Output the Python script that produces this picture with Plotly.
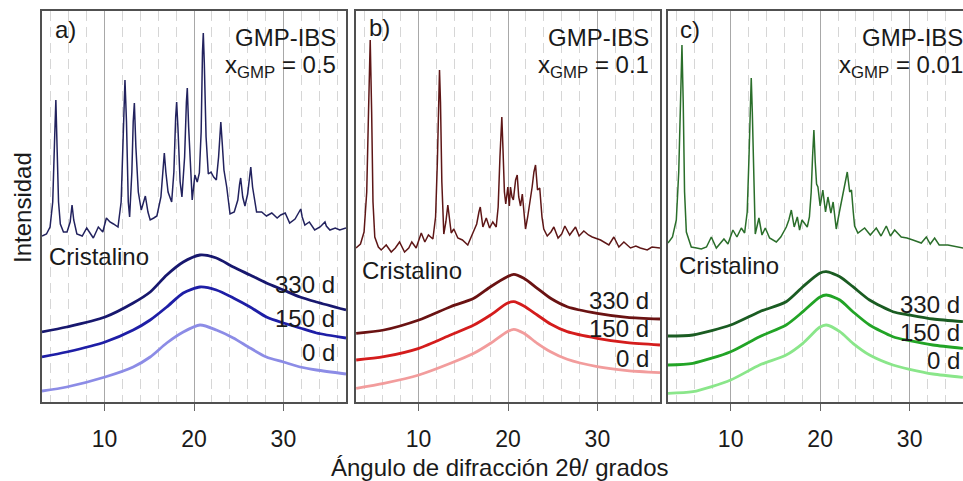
import plotly.graph_objects as go

# ---------------- data (2theta in degrees, intensity in arbitrary units) ----------------
# Panel a) x_GMP = 0.5
a_cryst_x = [3.0, 3.5, 3.9, 4.2, 4.4, 4.55, 4.7, 4.85, 5.05, 5.4, 5.8, 6.15, 6.36, 6.55, 6.9, 7.5, 8.0,
             8.4, 8.74, 9.3, 9.8, 10.2, 10.6, 11.0, 11.5, 11.85, 12.1, 12.28, 12.45, 12.65, 12.8, 13.05,
             13.2, 13.33, 13.5, 13.77, 14.1, 14.56, 14.85, 15.1, 15.5, 15.85, 16.3, 16.55, 16.68, 16.85,
             17.1, 17.5, 17.75, 17.95, 18.06, 18.2, 18.45, 18.65, 18.95, 19.15, 19.25, 19.4, 19.63, 19.8,
             20.1, 20.36, 20.6, 20.8, 20.95, 21.04, 21.15, 21.35, 21.6, 21.9, 22.2, 22.5, 22.75, 22.9,
             23.0, 23.15, 23.35, 23.66, 24.03, 24.5, 24.9, 25.1, 25.22, 25.45, 25.7, 26.0, 26.25, 26.35,
             26.55, 27.0, 27.57, 28.1, 28.7, 29.3, 29.7, 30.2, 30.7, 31.3, 31.75, 31.94, 32.1, 32.4, 32.9,
             33.5, 34.1, 34.5, 34.65, 34.8, 35.2, 35.8, 36.3, 37.0]
a_cryst_y = [166, 168, 175, 200, 260, 302, 250, 200, 178, 170, 170, 180, 197, 182, 168, 166, 174,
             168, 164, 175, 170, 184, 180, 178, 175, 200, 270, 322, 280, 200, 185, 230,
             280, 299, 255, 210, 192, 206, 190, 182, 184, 186, 205, 240, 249, 230,
             210, 200, 230, 285, 300, 275, 220, 205, 245, 300, 314, 275, 225, 202,
             227, 220, 229, 270, 350, 369, 340, 265, 228, 230, 225, 222, 245, 270,
             280, 260, 232, 215, 188, 190, 202, 218, 224, 205, 196, 208, 232, 235,
             215, 190, 190, 186, 189, 184, 187, 189, 179, 183, 190, 193, 185, 177, 180,
             172, 175, 178, 180, 176, 172, 174, 172, 174]
a_halo_x = [3.0, 5.76, 10.05, 13.2, 15.1, 16.95, 18.8, 20.67, 22.5, 24.4, 26.27, 28.1, 30.0, 31.86, 33.7, 37.0]
a_330 = [70, 75, 85, 99, 110, 127, 140, 147, 144, 135, 127, 119, 112, 105, 100, 92]
a_150 = [45, 50, 60, 72, 82, 95, 109, 115, 112, 104, 95, 85, 79, 74, 69, 64]
a_0 = [11, 15, 25, 35, 45, 59, 70, 77, 72, 64, 54, 45, 40, 35, 32, 28]

# Panel b) x_GMP = 0.1
b_cryst_x = [3.0, 3.5, 3.9, 4.2, 4.4, 4.59, 4.75, 4.9, 5.1, 5.5, 5.82, 6.38, 6.94, 7.4, 7.87, 8.43, 8.9,
             9.24, 9.73, 10.3, 10.7, 11.1, 11.6, 11.9, 12.1, 12.25, 12.34, 12.45, 12.6, 12.82, 13.05, 13.27,
             13.45, 13.65, 13.94, 14.39, 14.9, 15.5, 16.07, 16.5, 16.75, 16.9, 17.19, 17.57, 17.94, 18.3,
             18.68, 18.9, 19.1, 19.25, 19.31, 19.45, 19.6, 19.75, 19.98, 20.15, 20.28, 20.45, 20.6, 20.85,
             21.03, 21.2, 21.4, 21.6, 21.8, 21.96, 22.2, 22.4, 22.7, 22.9, 23.08, 23.3, 23.55, 23.8, 24.0,
             24.39, 24.8, 25.13, 25.6, 26.0, 26.36, 26.9, 27.55, 27.95, 28.48, 29.0, 29.42, 30.35, 31.28,
             31.84, 32.4, 32.96, 33.7, 34.3, 34.8, 35.57, 36.1, 37.0]
b_cryst_y = [154, 158, 170, 210, 290, 362, 290, 200, 165, 155, 152, 157, 150, 154, 160, 150, 154,
             160, 154, 169, 160, 167, 163, 185, 240, 310, 332, 300, 220, 168, 180, 197,
             180, 169, 173, 164, 162, 157, 169, 178, 190, 195, 175, 184, 174, 180,
             175, 195, 245, 280, 285, 250, 210, 198, 215, 196, 215, 205, 202, 222,
             227, 205, 196, 208, 185, 173, 185, 196, 215, 230, 237, 212, 214, 185, 173,
             166, 170, 175, 164, 168, 176, 167, 175, 166, 171, 167, 165, 162, 157,
             165, 155, 160, 154, 156, 154, 152, 155, 154]
b_halo_x = [3.02, 6.11, 10.03, 13.57, 16.18, 18.05, 19.91, 20.65, 21.77, 23.27, 24.76, 26.62, 29.98, 33.33, 37.0]
b_330 = [68.7, 72, 82, 95.3, 103.7, 115.3, 125.3, 127.7, 123.7, 113.7, 103.7, 95.3, 88.7, 84.7, 83]
b_150 = [42, 45.3, 53.7, 67, 77, 87, 98.7, 100.3, 96, 87, 78, 70.3, 63.7, 59.3, 57]
b_0 = [13.7, 18.7, 27, 38.7, 48.7, 58.7, 70.3, 72.7, 68.7, 58.7, 50.3, 42.7, 35.3, 31.3, 29.3]

# Panel c) x_GMP = 0.01
c_cryst_x = [3.0, 3.5, 3.93, 4.2, 4.4, 4.56, 4.7, 4.85, 5.05, 5.6, 6.2, 6.72, 7.3, 7.84, 8.4, 9.25, 9.7,
             10.25, 10.7, 11.19, 11.56, 11.85, 12.05, 12.2, 12.3, 12.42, 12.6, 12.75, 13.16, 13.5, 13.87,
             14.35, 15.1, 15.6, 16.22, 16.5, 16.78, 17.1, 17.45, 17.7, 17.97, 18.3, 18.56, 18.8, 19.0,
             19.15, 19.3, 19.45, 19.6, 19.75, 20.0, 20.3, 20.6, 20.87, 21.2, 21.45, 21.8, 22.15, 22.54,
             22.85, 23.03, 23.3, 23.5, 23.7, 23.85, 24.22, 24.97, 25.6, 26.27, 26.8, 27.39, 27.85, 28.32,
             29.06, 29.7, 30.36, 31.3, 31.86, 32.3, 32.79, 33.3, 34.27, 35.4, 36.0]
c_cryst_y = [159, 165, 182, 230, 300, 357, 300, 210, 170, 155, 154, 153, 155, 165, 154, 163, 158,
             172, 165, 174, 169, 190, 245, 300, 324, 290, 210, 168, 184, 167, 174,
             164, 160, 165, 175, 182, 192, 175, 185, 172, 182, 178, 175, 185, 210,
             245, 272, 240, 218, 215, 196, 212, 190, 205, 189, 200, 173, 190, 209,
             225, 230, 210, 212, 190, 176, 169, 174, 167, 174, 166, 176, 166, 172,
             165, 164, 162, 159, 165, 158, 164, 157, 157, 155, 154]
c_halo_x = [3.0, 5.78, 10.0, 13.23, 16.2, 18.07, 19.94, 20.69, 22.2, 23.66, 25.52, 28.13, 30.0, 32.6, 35.95]
c_330 = [66, 67, 77, 90.3, 100.3, 115.3, 128.7, 130.3, 125.3, 115.3, 102, 90.3, 87, 83, 80.3]
c_150 = [37, 38.7, 50.3, 65.3, 77, 90.3, 104.7, 107, 102, 90.3, 77, 65.3, 61.3, 57, 53.7]
c_0 = [8.7, 10.3, 22, 37, 47, 58.7, 74.7, 77, 70.3, 58.7, 47, 37, 32.7, 28, 24.7]

panel_labels = ["a)", "b)", "c)"]
x_gmp = ["0.5", "0.1", "0.01"]
age_labels = ["330 d", "150 d", "0 d"]
tick_vals = [10, 20, 30]

# ---------------- styling ----------------
W, H = 963, 481
ML, MR, MT, MB = 42, 0, 11, 79
PW, PH = W - ML - MR, H - MT - MB
FONT = "Arial, Liberation Sans, sans-serif"


def px(X):
    return (X - ML) / PW


def py(Y):
    return (H - MB - Y) / PH


panels = [
    dict(cx=a_cryst_x, cy=a_cryst_y, hx=a_halo_x, h=[a_330, a_150, a_0],
         ccol="#22225e", hcols=["#17176e", "#1e1ea6", "#8c8ce6"],
         dom=(42, 346), rng=[3, 37]),
    dict(cx=b_cryst_x, cy=b_cryst_y, hx=b_halo_x, h=[b_330, b_150, b_0],
         ccol="#5e1616", hcols=["#6a1212", "#d41c1c", "#f29c9c"],
         dom=(356, 660), rng=[3, 37]),
    dict(cx=c_cryst_x, cy=c_cryst_y, hx=c_halo_x, h=[c_330, c_150, c_0],
         ccol="#2a6e2a", hcols=["#1a5c22", "#22a426", "#8ae68a"],
         dom=(668, 963), rng=[3, 35.96]),
]

fig = go.Figure()
layout = dict(width=W, height=H, margin=dict(l=ML, r=MR, t=MT, b=MB),
              paper_bgcolor="white", plot_bgcolor="white", showlegend=False,
              font=dict(family=FONT, color="#1a1a1a"))

for i, p in enumerate(panels):
    sx = "" if i == 0 else str(i + 1)
    xa, ya = "x" + sx, "y" + sx
    for k in range(3):
        fig.add_trace(go.Scatter(x=p["hx"], y=p["h"][k], mode="lines", xaxis=xa, yaxis=ya,
                                 line=dict(color=p["hcols"][k], width=2.8, shape="spline", smoothing=0.7),
                                 hoverinfo="skip"))
    fig.add_trace(go.Scatter(x=p["cx"], y=p["cy"], mode="lines", xaxis=xa, yaxis=ya,
                             line=dict(color=p["ccol"], width=1.5), hoverinfo="skip"))
    d0, d1 = p["dom"]
    layout["xaxis" + sx] = dict(
        domain=[px(d0), min(px(d1), 1.0)], range=p["rng"], anchor=ya,
        tickvals=tick_vals, ticks="outside", ticklen=7, tickwidth=1.2, tickcolor="#666",
        ticklabelstandoff=9, tickfont=dict(size=23, family=FONT, color="#1a1a1a"),
        showgrid=True, gridcolor="#a8a8a8", gridwidth=1.3,
        minor=dict(dtick=2, tick0=0, showgrid=True, gridcolor="#d6d6d6", gridwidth=1,
                   griddash="10px,6px", ticks=""),
        showline=True, linecolor="#505050", linewidth=1.5, mirror=True, zeroline=False,
        fixedrange=True)
    layout["yaxis" + sx] = dict(
        domain=[0, 1], range=[0, 391], anchor=xa, showticklabels=False, ticks="",
        showgrid=False, zeroline=False, showline=True, linecolor="#505050", linewidth=1.5,
        mirror=(i < 2), fixedrange=True)

fig.update_layout(**layout)

ann = []
# panel letters
for lab, X, Y in zip(panel_labels, [53, 367, 678], [30, 28, 30]):
    ann.append(dict(text=lab, x=px(X), y=py(Y), xanchor="left", yanchor="middle"))
# sample name blocks
for g, Xr in zip(x_gmp, [338, 651, 965]):
    ann.append(dict(text="GMP-IBS", x=px(Xr), y=py(37), xanchor="right", yanchor="middle"))
    ann.append(dict(text="x<sub>GMP</sub> = " + g, x=px(Xr), y=py(66), xanchor="right", yanchor="middle"))
# Cristalino
for X, Y in zip([47, 360, 677], [256, 270, 265]):
    ann.append(dict(text="Cristalino", x=px(X), y=py(Y), xanchor="left", yanchor="middle"))
# ageing labels
for Xr, Ys in zip([337, 651, 962], [[284, 318, 352], [300, 328, 358], [304, 332, 360]]):
    for lab, Y in zip(age_labels, Ys):
        ann.append(dict(text=lab, x=px(Xr), y=py(Y), xanchor="right", yanchor="middle"))
# axis titles
ann.append(dict(text="Ángulo de difracción 2θ/ grados", x=px(500), y=py(467), xanchor="center",
                yanchor="middle"))
ann.append(dict(text="Intensidad", x=px(22), y=py(208), xanchor="center", yanchor="middle",
                textangle=-90))

for a in ann:
    a.update(xref="paper", yref="paper", showarrow=False,
             font=dict(size=24, family=FONT, color="#1a1a1a"))
fig.update_layout(annotations=ann)

fig.write_html("out.html", config={"displayModeBar": False},
               post_script="document.body.style.margin='0';document.body.style.overflow='hidden';")
